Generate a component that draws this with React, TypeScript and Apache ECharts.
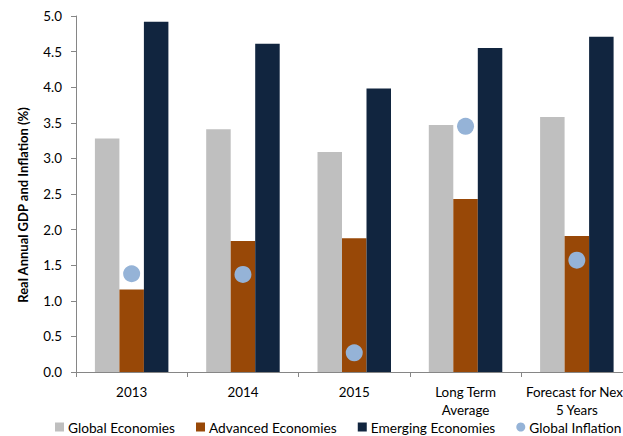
import React, { useEffect, useRef } from "react";
import * as echarts from "echarts";

const categories = ["2013", "2014", "2015", "Long Term\nAverage", "Forecast for Next\n5 Years"];
const globalEconomies = [3.28, 3.41, 3.09, 3.47, 3.58];
const advancedEconomies = [1.16, 1.84, 1.88, 2.43, 1.91];
const emergingEconomies = [4.92, 4.61, 3.98, 4.55, 4.71];
const globalInflation = [1.38, 1.37, 0.27, 3.45, 1.57];
const yTitle = "Real Annual GDP and Inflation (%)";

const FONT = "Lato, 'Open Sans', sans-serif";

export default function App() {
  const ref = useRef<HTMLDivElement>(null);
  useEffect(() => {
    if (!ref.current) return;
    const chart = echarts.init(ref.current, undefined, { renderer: "svg" });
    chart.setOption({
      animation: false,
      backgroundColor: "#ffffff",
      textStyle: { fontFamily: FONT },
      grid: {
        left: 76,
        top: 16,
        height: 356,
        width: 556.5,
        containLabel: false,
        outerBoundsMode: "none",
      },
      legend: {
        left: 55,
        top: 420,
        padding: 0,
        itemWidth: 9,
        itemHeight: 9,
        itemGap: 21,
        textStyle: { fontSize: 13.7, color: "#000", fontFamily: FONT, padding: [0, 0, 0, -1] },
        data: [
          { name: "Global Economies", icon: "rect" },
          { name: "Advanced Economies", icon: "rect" },
          { name: "Emerging Economies", icon: "rect" },
          { name: "Global Inflation", icon: "circle" },
        ],
      },
      xAxis: {
        type: "category",
        data: categories,
        axisLine: { show: true, lineStyle: { color: "#868686", width: 1 } },
        axisTick: { show: true, alignWithLabel: false, length: 5, lineStyle: { color: "#868686" } },
        axisLabel: { interval: 0, fontSize: 13.4, color: "#000", lineHeight: 18, margin: 11, fontFamily: FONT },
      },
      yAxis: {
        type: "value",
        min: 0,
        max: 5,
        interval: 0.5,
        axisLine: { show: true, lineStyle: { color: "#868686", width: 1 } },
        axisTick: { show: true, length: 5, lineStyle: { color: "#868686" } },
        splitLine: { show: false },
        axisLabel: {
          fontSize: 13.4,
          color: "#000",
          margin: 14,
          fontFamily: FONT,
          formatter: (v: number) => v.toFixed(1),
        },
      },
      graphic: [
        {
          type: "text",
          x: 23,
          y: 205,
          rotation: Math.PI / 2,
          style: {
            text: yTitle,
            fontSize: 13,
            fontWeight: "bold",
            fill: "#000",
            align: "center",
            verticalAlign: "middle",
            fontFamily: FONT,
          },
        },
      ],
      series: [
        {
          name: "Global Economies",
          type: "bar",
          data: globalEconomies,
          barWidth: 24.5,
          barGap: "0%",
          itemStyle: { color: "#BFBFBF" },
        },
        {
          name: "Advanced Economies",
          type: "bar",
          data: advancedEconomies,
          barWidth: 24.5,
          barGap: "0%",
          itemStyle: { color: "#984807" },
        },
        {
          name: "Emerging Economies",
          type: "bar",
          data: emergingEconomies,
          barWidth: 24.5,
          barGap: "0%",
          itemStyle: { color: "#11253F" },
        },
        {
          name: "Global Inflation",
          type: "scatter",
          data: globalInflation,
          symbolSize: 17,
          z: 5,
          itemStyle: { color: "#95B3D7", opacity: 1 },
        },
      ],
    });
    return () => chart.dispose();
  }, []);
  return <div ref={ref} style={{ width: 623, height: 436, position: "absolute", left: 0, top: 0 }} />;
}
